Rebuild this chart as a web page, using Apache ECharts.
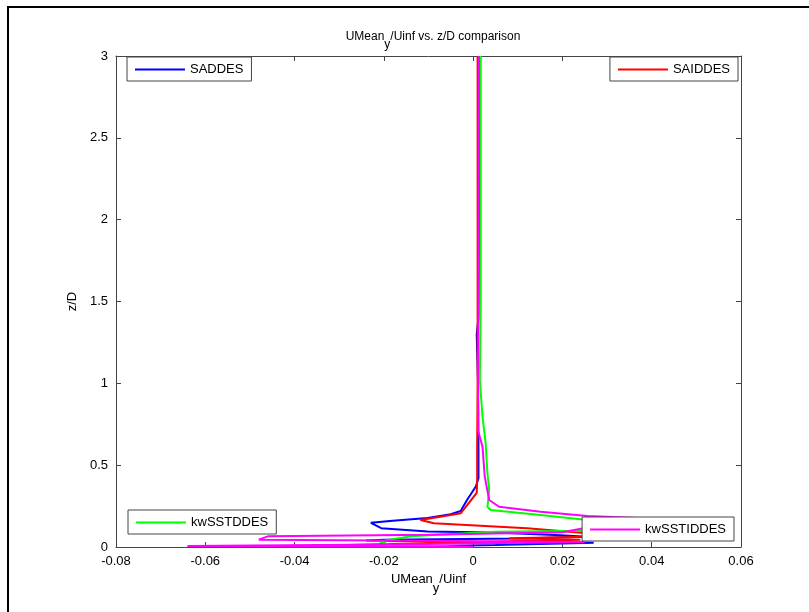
<!DOCTYPE html>
<html>
<head>
<meta charset="utf-8">
<script src="https://cdn.jsdelivr.net/npm/echarts@6/dist/echarts.min.js"></script>
<style>
  html, body { margin: 0; padding: 0; background: #fff; }
  #chart { width: 809px; height: 612px; }
</style>
</head>
<body>
<div id="chart"></div>
<script>
// values: UMean_y/Uinf (u) against z/D (z)
const saddesU = [0.0013, 0.0013, 0.0012, 0.0008, 0.0011, 0.0012, 0.0012, 0.0006, -0.0013, -0.0028, -0.005, -0.0102, -0.018, -0.0229, -0.0232, -0.0206, -0.0102, 0.0046, 0.0196, 0.0255, 0.01, -0.02, -0.024, 0.0, 0.027, 0.005, -0.01, 0.0];
const saddesZ = [3.0, 2.0, 1.4, 1.3, 1.0, 0.6, 0.42, 0.37, 0.29, 0.22, 0.2, 0.177, 0.16, 0.148, 0.138, 0.115, 0.094, 0.088, 0.072, 0.062, 0.052, 0.045, 0.04, 0.032, 0.026, 0.012, 0.005, 0.0];

const saiddesU = [0.001, 0.001, 0.0009, 0.0009, 0.0008, -0.0013, -0.0028, -0.005, -0.0118, -0.0088, 0.0121, 0.0256, 0.0256, 0.008, 0.024, -0.0073, -0.035, -0.02, 0.0];
const saiddesZ = [3.0, 1.0, 0.6, 0.41, 0.33, 0.257, 0.206, 0.195, 0.165, 0.145, 0.114, 0.084, 0.063, 0.053, 0.045, 0.026, 0.008, 0.003, 0.0];

const kwsstddesU = [0.0017, 0.0017, 0.0015, 0.0021, 0.0028, 0.0032, 0.0036, 0.0032, 0.0039, 0.0151, 0.0256, 0.0286, 0.025, 0.005, -0.014, -0.021, -0.018, -0.006, 0.0];
const kwsstddesZ = [3.0, 1.5, 1.02, 0.796, 0.633, 0.45, 0.348, 0.246, 0.226, 0.195, 0.165, 0.158, 0.1, 0.093, 0.066, 0.033, 0.01, 0.004, 0.0];

const kwsstiddesU = [0.0013, 0.0012, 0.0011, 0.0011, 0.0021, 0.0026, 0.0036, 0.0058, 0.0151, 0.0256, 0.0368, 0.02, -0.01, -0.046, -0.048, -0.02, 0.025, -0.02, -0.064, -0.03, 0.0];
const kwsstiddesZ = [3.0, 1.5, 1.02, 0.71, 0.613, 0.43, 0.287, 0.246, 0.216, 0.189, 0.177, 0.09, 0.075, 0.065, 0.045, 0.04, 0.03, 0.015, 0.006, 0.003, 0.0];

const seriesNames = ['SADDES', 'SAIDDES', 'kwSSTDDES', 'kwSSTIDDES'];
const seriesColors = ['#0000ff', '#ff0000', '#00ff00', '#ff00ff'];

const xMin = -0.08, xMax = 0.06, xStep = 0.02;
const yMin = 0, yMax = 3, yStep = 0.5;

const font = 'Liberation Sans, Arial, sans-serif';

function pairs(u, z) {
  return u.map((v, i) => [v, z[i]]);
}

const seriesData = [
  pairs(saddesU, saddesZ),
  pairs(saiddesU, saiddesZ),
  pairs(kwsstddesU, kwsstddesZ),
  pairs(kwsstiddesU, kwsstiddesZ),
];

const chart = echarts.init(document.getElementById('chart'));

const axisLine = { show: true, onZero: false, lineStyle: { color: '#444', width: 1 } };
const tick = { show: true, inside: true, length: 5, lineStyle: { color: '#444' } };

const legendBase = {
  orient: 'horizontal',
  backgroundColor: '#fff',
  borderColor: '#444',
  borderWidth: 1,
  borderRadius: 0,
  padding: [6, 8, 5, 8],
  icon: 'rect',
  itemWidth: 50,
  itemHeight: 2,
  itemGap: 5,
  textStyle: { fontFamily: font, fontSize: 13, color: '#000' },
};

const subRich = (size, lh, pad) => ({
  a: { fontFamily: font, fontSize: size, fontWeight: 'normal', color: '#000', verticalAlign: 'top', lineHeight: lh },
  s: { fontFamily: font, fontSize: size, fontWeight: 'normal', color: '#000', verticalAlign: 'bottom', lineHeight: lh, padding: [pad, 0, 0, 0] },
});

chart.setOption({
  animation: false,
  backgroundColor: '#fff',
  textStyle: { fontFamily: font },
  title: {
    text: '{a|UMean}{s|y}{a|/Uinf vs. z/D comparison}',
    left: 428,
    textAlign: 'center',
    top: 26,
    textStyle: { fontWeight: 'normal', rich: subRich(12, 20, 8) },
  },
  grid: { left: 116, right: 68, top: 56, bottom: 65 },
  legend: [
    Object.assign({}, legendBase, { data: [seriesNames[0]], left: 127, top: 57 }),
    Object.assign({}, legendBase, { data: [seriesNames[1]], right: 71, top: 57 }),
    Object.assign({}, legendBase, { data: [seriesNames[2]], left: 128, top: 510 }),
    Object.assign({}, legendBase, { data: [seriesNames[3]], right: 75, top: 517 }),
  ],
  xAxis: [
    {
      type: 'value',
      min: xMin, max: xMax, interval: xStep,
      axisLine: axisLine,
      axisTick: tick,
      splitLine: { show: false },
      axisLabel: {
        color: '#000', fontSize: 13, fontFamily: font, margin: 8,
        formatter: (v) => String(Math.round(v * 100) / 100),
      },
      name: '{a|UMean}{s|y}{a|/Uinf}',
      nameLocation: 'middle',
      nameGap: 26,
      nameTextStyle: { rich: subRich(13, 22, 9) },
    },
    {
      type: 'value', position: 'top',
      min: xMin, max: xMax, interval: xStep,
      axisLine: axisLine, axisTick: tick,
      axisLabel: { show: false }, splitLine: { show: false },
    },
  ],
  yAxis: [
    {
      type: 'value',
      min: yMin, max: yMax, interval: yStep,
      axisLine: axisLine,
      axisTick: tick,
      splitLine: { show: false },
      axisLabel: { color: '#000', fontSize: 13, fontFamily: font, margin: 8 },
      name: 'z/D',
      nameLocation: 'middle',
      nameGap: 34,
      nameTextStyle: { fontFamily: font, fontSize: 13, color: '#000' },
    },
    {
      type: 'value', position: 'right',
      min: yMin, max: yMax, interval: yStep,
      axisLine: axisLine, axisTick: tick,
      axisLabel: { show: false }, splitLine: { show: false },
    },
  ],
  graphic: [
    { type: 'rect', shape: { x: 7, y: 6, width: 2, height: 606 }, style: { fill: '#000' } },
    { type: 'rect', shape: { x: 7, y: 6, width: 802, height: 2 }, style: { fill: '#000' } },
  ],
  series: seriesNames.map((name, i) => ({
    name: name,
    type: 'line',
    xAxisIndex: 0,
    yAxisIndex: 0,
    data: seriesData[i],
    symbol: 'none',
    showSymbol: false,
    clip: true,
    lineStyle: { color: seriesColors[i], width: 2 },
    itemStyle: { color: seriesColors[i] },
  })),
});
</script>
</body>
</html>
